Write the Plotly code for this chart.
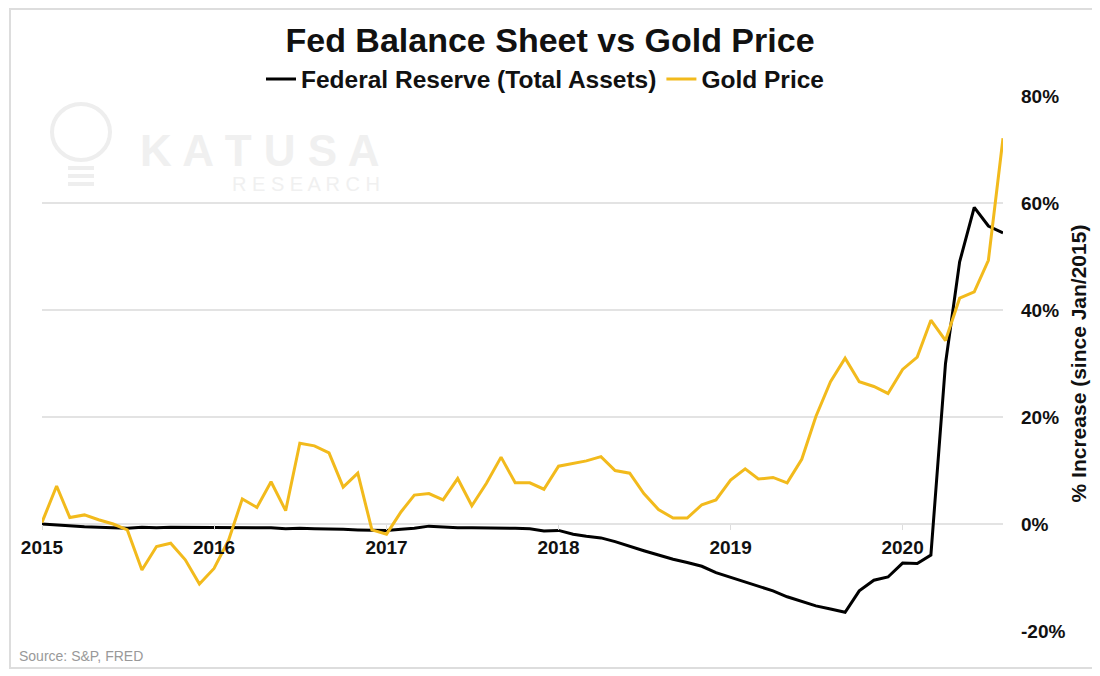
import pandas as pd
import plotly.graph_objects as go

# ---- data (monthly, Jan 2015 .. Aug 2020), % change since Jan 2015 ----
months = pd.date_range("2015-01-01", "2020-08-01", freq="MS")

fed_assets = [
    0.0, -0.2, -0.3, -0.5, -0.6, -0.7, -0.8, -0.6, -0.7, -0.6, -0.6, -0.7,
    -0.6, -0.7, -0.6, -0.6, -0.7, -0.9, -0.8, -0.9, -0.9, -1.0, -1.1, -1.2,
    -1.2, -1.0, -0.8, -0.4, -0.6, -0.7, -0.7, -0.7, -0.8, -0.8, -0.9, -1.3,
    -1.2, -1.9, -2.3, -2.6, -3.3, -4.2, -5.0, -5.8, -6.6, -7.2, -7.9, -9.1,
    -10.0, -10.9, -11.6, -12.5, -13.6, -14.4, -15.3, -15.9, -16.5, -12.5, -10.5, -9.9,
    -7.3, -7.4, -5.8, 30.0, 49.0, 59.2, 55.7, 54.4,
]

gold_price = [
    0.3, 7.1, 1.2, 1.7, 0.8, 0.0, -1.1, -8.6, -4.2, -3.6, -6.7, -11.2,
    -8.3, -3.0, 4.7, 3.1, 7.9, 2.5, 15.1, 14.6, 13.3, 6.9, 9.5, -1.1,
    -1.9, 2.3, 5.4, 5.7, 4.5, 8.5, 3.4, 7.6, 12.5, 7.7, 7.7, 6.5,
    10.8, 11.3, 11.8, 12.6, 10.0, 9.5, 5.7, 2.7, 1.1, 1.1, 3.6, 4.5,
    8.2, 10.3, 8.4, 8.7, 7.7, 12.1, 20.1, 26.6, 31.0, 26.6, 25.7, 24.4,
    28.9, 31.2, 38.1, 34.3, 42.2, 43.4, 49.3, 72.1,
]

year_ticks = ["2015-01-01", "2016-01-01", "2017-01-01", "2018-01-01", "2019-01-01", "2020-01-01"]
year_labels = ["2015", "2016", "2017", "2018", "2019", "2020"]
y_ticks = [-20, 0, 20, 40, 60, 80]
y_labels = ["-20%", "0%", "20%", "40%", "60%", "80%"]

# ---- layout geometry (reference pixels; page body adds an 8px offset) ----
W, H = 1100, 676
OFF = 8
L_REF, R_REF, T_REF, B_REF = 42, 1003, 96, 631
ML = L_REF - OFF
MT = T_REF - OFF
MR = W - (R_REF - OFF)
MB = H - (B_REF - OFF)
PW, PH = R_REF - L_REF, B_REF - T_REF
YMIN, YMAX = -20, 80

def px(x):
    return (x - L_REF) / PW

def py(y):
    return 1 - (y - T_REF) / PH

FONT = "Arial, Liberation Sans, Helvetica, sans-serif"
GOLD = "#F2BA1C"

fig = go.Figure()
fig.add_trace(go.Scatter(
    x=months, y=fed_assets, mode="lines", name="Federal Reserve (Total Assets)",
    line=dict(color="#000000", width=3),
))
fig.add_trace(go.Scatter(
    x=months, y=gold_price, mode="lines", name="Gold Price",
    line=dict(color=GOLD, width=3),
))

zero_pos = (0 - YMIN) / (YMAX - YMIN)

fig.update_layout(
    width=W, height=H,
    margin=dict(l=ML, r=MR, t=MT, b=MB, pad=0, autoexpand=False),
    paper_bgcolor="white", plot_bgcolor="white",
    font=dict(family=FONT, color="#111111"),
    title=dict(
        text="<b>Fed Balance Sheet vs Gold Price</b>",
        x=(550 - OFF) / W, xanchor="center", xref="container",
        y=1 - (40 - OFF) / H, yanchor="middle", yref="container",
        font=dict(size=34, color="#111111", family=FONT),
    ),
    legend=dict(
        orientation="h", x=px(545), xanchor="center", y=py(79), yanchor="middle",
        font=dict(size=24.5, color="#111111", family=FONT, weight="bold"),
        itemwidth=30, tracegroupgap=0, bgcolor="rgba(0,0,0,0)",
    ),
    showlegend=True,
    xaxis=dict(
        type="date",
        range=["2015-01-01", "2020-08-01"],
        tickvals=year_ticks, ticktext=year_labels,
        showgrid=False, zeroline=False,
        showline=False,
        ticks="outside", ticklen=5, tickcolor="#dddddd", tickwidth=1,
        ticklabelstandoff=1,
        tickfont=dict(size=19, color="#111111", family=FONT, weight="bold"),
        anchor="free", position=zero_pos,
    ),
    yaxis=dict(
        range=[YMIN, YMAX], side="right",
        tickvals=y_ticks, ticktext=y_labels,
        showgrid=True, gridcolor="#e3e3e3", gridwidth=1.5,
        zeroline=True, zerolinecolor="#e3e3e3", zerolinewidth=1.5,
        showline=False, ticks="",
        ticklabelstandoff=17,
        tickfont=dict(size=19, color="#111111", family=FONT, weight="bold"),
        title=dict(text="% Increase (since Jan/2015)", standoff=6,
                   font=dict(size=21, color="#111111", family=FONT, weight="bold")),
    ),
)

# watermark
fig.add_annotation(text="K A T U S A", x=px(260), y=py(150), xref="paper", yref="paper",
                   xanchor="center", yanchor="middle", showarrow=False,
                   font=dict(size=44, color="#f0f0f0", family=FONT, weight="bold"))
fig.add_annotation(text="R E S E A R C H", x=px(306), y=py(184), xref="paper", yref="paper",
                   xanchor="center", yanchor="middle", showarrow=False,
                   font=dict(size=20, color="#f0f0f0", family=FONT))
fig.add_shape(type="circle", xref="paper", yref="paper",
              x0=px(52), x1=px(110), y0=py(104), y1=py(160),
              line=dict(color="#eeeeee", width=4), layer="below")
for yy in (168, 176, 184):
    fig.add_shape(type="line", xref="paper", yref="paper",
                  x0=px(68), x1=px(94), y0=py(yy), y1=py(yy),
                  line=dict(color="#eeeeee", width=4), layer="below")

# source
fig.add_annotation(text="Source: S&P, FRED", x=px(17), y=py(656), xref="paper", yref="paper",
                   xanchor="left", yanchor="middle", showarrow=False,
                   font=dict(size=14, color="#999999", family=FONT))

# frame border
fig.add_shape(type="rect", xref="paper", yref="paper",
              x0=px(10), x1=px(1094), y0=py(9), y1=py(668),
              line=dict(color="#dddddd", width=2), layer="below")

fig.write_html("out.html")
